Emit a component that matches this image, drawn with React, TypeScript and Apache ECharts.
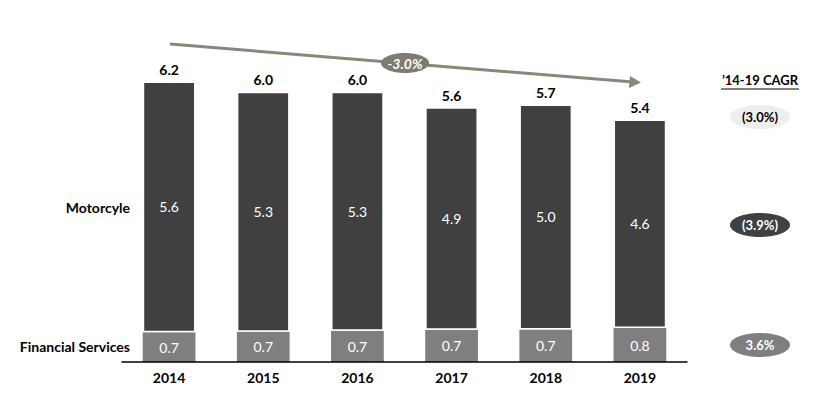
import React, { useEffect, useRef } from "react";
import * as echarts from "echarts";

const years = ["2014", "2015", "2016", "2017", "2018", "2019"];
// labels as printed
const financialServices = [0.7, 0.7, 0.7, 0.7, 0.7, 0.8];
const motorcycle = [5.6, 5.3, 5.3, 4.9, 5.0, 4.6];
const totals = [6.2, 6.0, 6.0, 5.6, 5.7, 5.4];
// unrounded values
const financialServicesExact = [0.66, 0.67, 0.69, 0.71, 0.72, 0.75];
const totalsExact = [6.2, 5.97, 5.97, 5.63, 5.69, 5.36];
const cagrTotal = "(3.0%)";
const cagrMotorcycle = "(3.9%)";
const cagrFinancial = "3.6%";
const overallTrend = "-3.0%";

const FONT = "Lato, 'Open Sans', sans-serif";
const DARK = "#404040";
const MID = "#7f7f7f";

export default function App() {
  const ref = useRef<HTMLDivElement>(null);
  useEffect(() => {
    document.body.style.margin = "0";
    const chart = echarts.init(ref.current!, null, { renderer: "svg" });
    const motoHeights = totalsExact.map((t, i) => +(t - financialServicesExact[i]).toFixed(2));
    const txt = (text: string, x: number, y: number, extra: any = {}) => ({
      type: "text",
      x,
      y,
      z: 12,
      style: {
        text,
        fill: "#000",
        fontWeight: "bold",
        fontSize: 14,
        fontFamily: FONT,
        align: "center",
        verticalAlign: "middle",
        ...extra,
      },
    });
    chart.setOption({
      animation: false,
      grid: { left: 122, right: 151, top: 0, bottom: 45, containLabel: false },
      xAxis: {
        type: "category",
        data: years,
        axisLine: { lineStyle: { color: "#000", width: 1.5 } },
        axisTick: { show: false },
        axisLabel: { color: "#000", fontWeight: "bold", fontSize: 14, fontFamily: FONT, margin: 8 },
        z: 5,
      },
      yAxis: { type: "value", min: 0, max: 8, show: false, splitLine: { show: false } },
      series: [
        {
          type: "bar",
          stack: "s",
          data: financialServicesExact,
          barWidth: "56%",
          itemStyle: { color: MID },
          label: {
            show: true,
            position: "inside",
            color: "#fff",
            fontSize: 14,
            fontFamily: FONT,
            formatter: (p: any) => financialServices[p.dataIndex].toFixed(1),
          },
        },
        {
          type: "bar",
          stack: "s",
          data: motoHeights,
          barWidth: "56%",
          itemStyle: { color: DARK, borderColor: "#fff", borderWidth: 1.5 },
          label: {
            show: true,
            position: "inside",
            color: "#fff",
            fontSize: 14,
            fontFamily: FONT,
            formatter: (p: any) => motorcycle[p.dataIndex].toFixed(1),
          },
        },
        {
          type: "bar",
          stack: "s",
          data: totals.map(() => 0),
          barWidth: "56%",
          itemStyle: { color: "transparent" },
          label: {
            show: true,
            position: "top",
            distance: 5,
            color: "#000",
            fontWeight: "bold",
            fontSize: 14,
            fontFamily: FONT,
            formatter: (p: any) => totals[p.dataIndex].toFixed(1),
          },
        },
      ],
      graphic: [
        {
          type: "line",
          shape: { x1: 170, y1: 44, x2: 633, y2: 82 },
          style: { stroke: "#8a8779", lineWidth: 3 },
          z: 10,
        },
        {
          type: "polygon",
          shape: { points: [[641, 82.5], [630, 76], [629, 88]] },
          style: { fill: "#8a8779" },
          z: 10,
        },
        {
          type: "ellipse",
          shape: { cx: 405, cy: 63, rx: 24, ry: 10 },
          style: { fill: "#7f7b6f" },
          z: 11,
        },
        txt(overallTrend, 405, 63, { fill: "#fff", fontStyle: "italic" }),
        txt("\u201914-19 CAGR", 760, 80, { fontSize: 13 }),
        {
          type: "line",
          shape: { x1: 721, y1: 89, x2: 799, y2: 89 },
          style: { stroke: "#000", lineWidth: 1 },
        },
        { type: "ellipse", shape: { cx: 760, cy: 117, rx: 30, ry: 12 }, style: { fill: "#eeeeee" } },
        txt(cagrTotal, 760, 117, { fontSize: 13 }),
        { type: "ellipse", shape: { cx: 760, cy: 225, rx: 30, ry: 12 }, style: { fill: DARK } },
        txt(cagrMotorcycle, 760, 225, { fill: "#fff", fontSize: 13 }),
        { type: "ellipse", shape: { cx: 760, cy: 345, rx: 30, ry: 12 }, style: { fill: MID } },
        txt(cagrFinancial, 760, 345, { fill: "#fff", fontSize: 13 }),
        txt("Motorcyle", 130, 207, { align: "right" }),
        txt("Financial Services", 130, 346, { align: "right" }),
      ],
    });
    return () => chart.dispose();
  }, []);
  return <div ref={ref} style={{ width: 838, height: 407 }} />;
}
